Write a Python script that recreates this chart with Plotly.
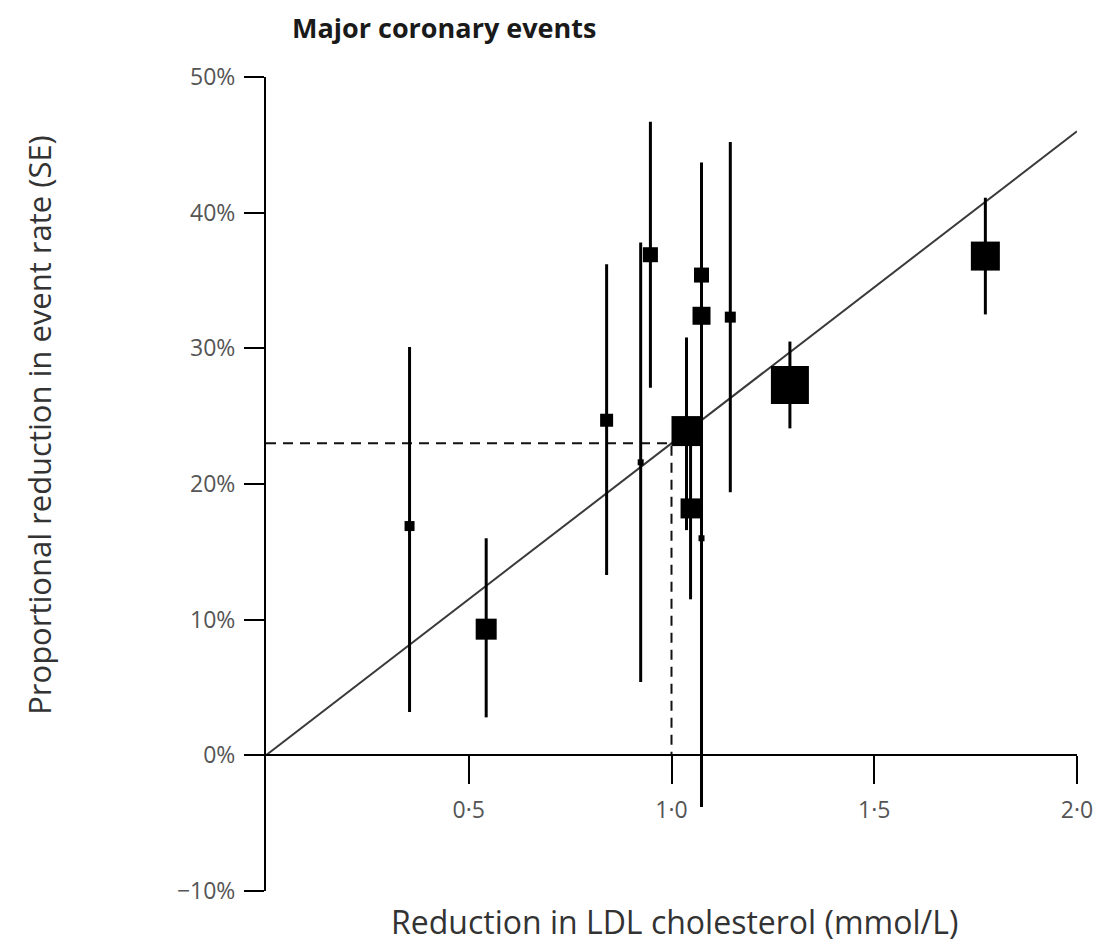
import plotly.graph_objects as go

# Data
ldl_reduction = [0.354, 0.543, 0.84, 0.924, 0.948, 1.037, 1.047, 1.074, 1.074, 1.074, 1.145, 1.292, 1.774]
event_reduction = [16.9, 9.3, 24.7, 21.6, 36.9, 23.9, 18.2, 35.4, 32.4, 16.0, 32.3, 27.3, 36.8]
err_plus = [13.2, 6.7, 11.5, 16.2, 9.8, 6.9, 6.7, 8.3, 7.0, 19.8, 12.9, 3.2, 4.3]
err_minus = [13.7, 6.5, 11.4, 16.2, 9.8, 7.3, 6.7, 8.3, 7.0, 19.8, 12.9, 3.2, 4.3]
weight_size = [10, 21, 13, 6, 15, 30, 20, 15, 18, 6, 11, 38, 29]

fit_x = [0.0, 2.0]
fit_y = [0.0, 46.0]
ref_x = [0.0, 1.0, 1.0]
ref_y = [23.0, 23.0, 0.0]

x_ticks = [0.5, 1.0, 1.5, 2.0]
x_tick_labels = ["0·5", "1·0", "1·5", "2·0"]
y_ticks = [-10, 0, 10, 20, 30, 40, 50]
y_tick_labels = ["\u221210%", "0%", "10%", "20%", "30%", "40%", "50%"]

FONT = "Open Sans"

fig = go.Figure()
fig.add_trace(go.Scatter(x=fit_x, y=fit_y, mode="lines",
                         line=dict(color="#3a3a3a", width=2), hoverinfo="skip"))
fig.add_trace(go.Scatter(x=ref_x, y=ref_y, mode="lines",
                         line=dict(color="#111", width=2, dash="10px,7px"), hoverinfo="skip"))
fig.add_trace(go.Scatter(
    x=ldl_reduction, y=event_reduction, mode="markers",
    marker=dict(symbol="square", size=weight_size, color="black", opacity=1, line=dict(width=0)),
    error_y=dict(type="data", symmetric=False, array=err_plus, arrayminus=err_minus,
                 color="black", thickness=3, width=0),
))

fig.update_layout(
    width=1105, height=944,
    margin=dict(l=266, r=25, t=77, b=53),
    paper_bgcolor="white", plot_bgcolor="white",
    showlegend=False,
    xaxis=dict(range=[0, 2.0], tickvals=x_ticks, ticktext=x_tick_labels,
               showgrid=False, zeroline=False, showline=True, linecolor="black", linewidth=2,
               ticks="outside", ticklen=28, tickwidth=2, tickcolor="black",
               anchor="free", position=1/6,
               tickfont=dict(family=FONT, size=23, color="#555"),
               ticklabelstandoff=6),
    yaxis=dict(range=[-10, 50], tickvals=y_ticks, ticktext=y_tick_labels,
               showgrid=False, zeroline=False, showline=True, linecolor="black", linewidth=2,
               ticks="outside", ticklen=20, tickwidth=2, tickcolor="black",
               tickfont=dict(family=FONT, size=23, color="#555"),
               ticklabelstandoff=4),
    annotations=[
        dict(text="<b>Major coronary events</b>", xref="paper", yref="paper",
             x=(290 - 266) / 814, y=1 + (77 - 27) / 814, xanchor="left", yanchor="middle",
             showarrow=False, font=dict(family=FONT, size=27, color="#1a1a1a")),
        dict(text="Reduction in LDL cholesterol (mmol/L)", xref="paper", yref="paper",
             x=(676 - 266) / 814, y=-(921 - 891) / 814, xanchor="center", yanchor="middle",
             showarrow=False, font=dict(family=FONT, size=32, color="#333")),
        dict(text="Proportional reduction in event rate (SE)", xref="paper", yref="paper",
             x=-(266 - 38) / 814, y=(891 - 425) / 814, xanchor="center", yanchor="middle",
             textangle=-90, showarrow=False, font=dict(family=FONT, size=31, color="#333")),
    ],
)

fig.write_html("out.html")
